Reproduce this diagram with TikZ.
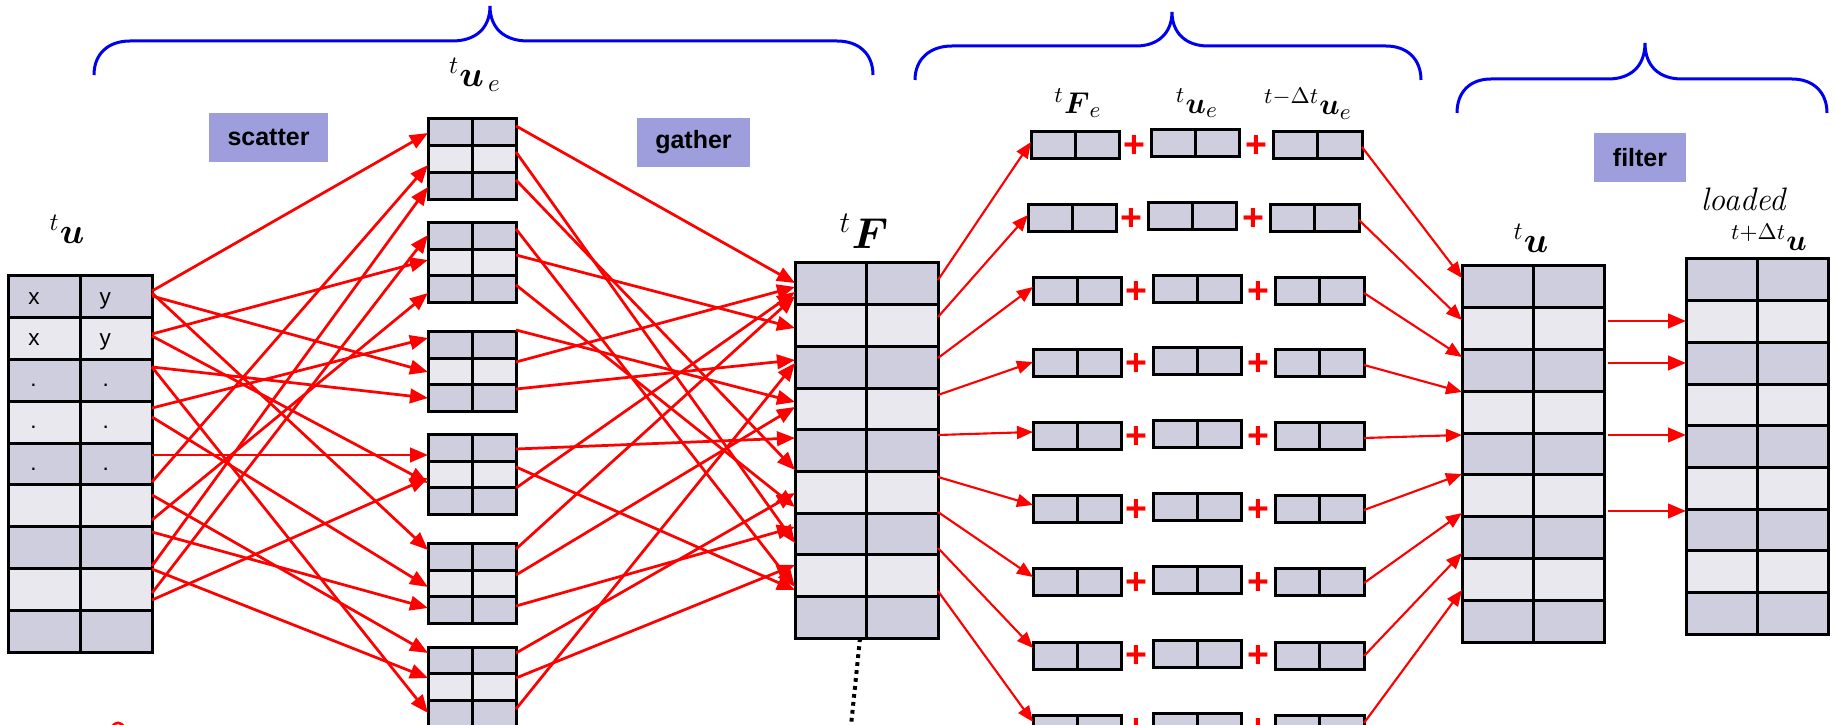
\documentclass[tikz,border=0pt]{standalone}
\usepackage{amsmath}
\usepackage{fontspec}
\setsansfont{Liberation Sans}
\usetikzlibrary{arrows.meta}

\definecolor{celldark}{RGB}{206,206,222}
\definecolor{celllight}{RGB}{232,232,238}
\definecolor{tagfill}{RGB}{158,158,220}
\definecolor{braceblue}{RGB}{0,0,240}
\definecolor{wirered}{RGB}{255,0,0}

\tikzset{
  cell/.style={draw=black, line width=1.2pt, inner sep=0pt, outer sep=0pt},
  scat/.style={draw=wirered, line width=1.1pt, -{Triangle[length=7.2pt,width=5.8pt]}},
  fan/.style={draw=wirered, line width=0.85pt, -{Triangle[length=6.4pt,width=5.2pt]}},
  push/.style={draw=wirered, line width=1.1pt, -{Triangle[length=7.2pt,width=5.8pt]}},
  tag/.style={fill=tagfill, inner sep=0pt, minimum height=19.6pt,
    font=\sffamily\bfseries\fontsize{10}{12}\selectfont},
  celltext/.style={inner sep=0pt, anchor=base west, font=\sffamily\fontsize{9}{10}\selectfont},
  lbl/.style={inner sep=0pt},
  plus/.style={inner sep=0pt, text=wirered, font=\sffamily\bfseries\fontsize{15}{15}\selectfont},
  brace/.style={draw=braceblue, line width=1.2pt},
  dotline/.style={draw=black, line width=1.6pt, dash pattern=on 1.5pt off 1.7pt},
}

% two-column table of cell nodes: name, left x, top y, cell width, cell height, rows
\newcommand{\gridtable}[6]{%
  \foreach \ri in {1,...,#6}{%
    \pgfmathsetmacro{\cy}{#3+(\ri-0.5)*(#5)}%
    \pgfmathsetmacro{\cxa}{#2+0.5*(#4)}%
    \pgfmathsetmacro{\cxb}{#2+1.5*(#4)}%
    \ifodd\ri\relax\def\cellcol{celldark}\else\def\cellcol{celllight}\fi
    \node[cell, fill=\cellcol, minimum width=#4*0.4pt, minimum height=#5*0.4pt] (#1-\ri-a) at (\cxa,\cy) {};%
    \node[cell, fill=\cellcol, minimum width=#4*0.4pt, minimum height=#5*0.4pt] (#1-\ri-b) at (\cxb,\cy) {};%
  }}

% connector from the right side of one cell to the left side of another, at given heights
\newcommand{\wire}[5][scat]{\draw[#1] (#2.east |- 0,#3) -- (#4.west |- 0,#5);}

\begin{document}
\begin{tikzpicture}[x=0.4pt, y=-0.4pt]
\useasboundingbox (0,0) rectangle (1835,725);
\clip (0,0) rectangle (1835,725);

% ---- braces over the three stages
\draw[brace] (94,75) .. controls (94,54) and (108,41) .. (130,41) -- (452,41)
  .. controls (476,41) and (490,28) .. (490,6)
  .. controls (490,28) and (504,41) .. (528,41) -- (837,41)
  .. controls (859,41) and (873,54) .. (873,75);
\draw[brace] (915,80) .. controls (915,59) and (930,46) .. (952,46) -- (1136,46)
  .. controls (1158,46) and (1172,33) .. (1172,12)
  .. controls (1172,33) and (1186,46) .. (1208,46) -- (1386,46)
  .. controls (1407,46) and (1421,59) .. (1421,80);
\draw[brace] (1457,113) .. controls (1457,92) and (1470,79) .. (1491,79) -- (1608,79)
  .. controls (1631,79) and (1645,66) .. (1645,43)
  .. controls (1645,66) and (1659,79) .. (1682,79) -- (1792,79)
  .. controls (1813,79) and (1827,92) .. (1827,113);

% ---- stage tags
\node[tag, minimum width=47.6pt] (scatter) at (268.5,137.5) {scatter};
\node[tag, minimum width=45.2pt] (gather) at (693.5,142.5) {gather};
\node[tag, minimum width=36.8pt] (filter) at (1640,157.5) {filter};

% ---- tables
\gridtable{L}{8.6}{276}{71.7}{41.8}{9}
\gridtable{E1}{428}{119}{44}{26.7}{3}
\gridtable{E2}{428}{223}{44}{26.5}{3}
\gridtable{E3}{428}{332}{44}{26.5}{3}
\gridtable{E4}{428}{435}{44}{26.5}{3}
\gridtable{E5}{428}{544}{44}{26.5}{3}
\gridtable{E6}{428}{647}{44}{26.5}{3}
\gridtable{F}{795}{263}{71.5}{41.7}{9}
\gridtable{R}{1462}{266}{71}{41.8}{9}
\gridtable{T}{1686}{259}{71}{41.7}{9}

% element rows: force, displacement, previous displacement
\foreach \k/\ty/\dx in {1/132/-2, 2/205/-5, 3/278/0, 4/350/0, 5/423/0, 6/496/0, 7/569/0, 8/642/0, 9/715/0}{
  \gridtable{A\k}{1033+\dx}{\ty}{44}{27}{1}
  \gridtable{B\k}{1153+\dx}{\ty-2}{44}{27}{1}
  \gridtable{C\k}{1275+\dx}{\ty}{44.5}{27}{1}
  \node[plus] (P\k-1) at (1136+\dx,\ty+15) {+};
  \node[plus] (P\k-2) at (1258+\dx,\ty+15) {+};
}

% ---- cell entries
\node[celltext] (tx1) at (28,305) {x};
\node[celltext] (ty1) at (99,305) {y};
\node[celltext] (tx2) at (28,346) {x};
\node[celltext] (ty2) at (99,346) {y};
\node[celltext] (tx3) at (30,387) {.};
\node[celltext] (ty3) at (102,387) {.};
\node[celltext] (tx4) at (30,429) {.};
\node[celltext] (ty4) at (102,429) {.};
\node[celltext] (tx5) at (30,471) {.};
\node[celltext] (ty5) at (102,471) {.};

% ---- labels
\node[lbl, font=\fontsize{14}{16}\selectfont] (lblL) at (67,229) {${}^{t}\boldsymbol{u}$};
\node[lbl, font=\fontsize{14}{16}\selectfont] (lblE) at (475,75) {${}^{t}\boldsymbol{u}_{\,e}$};
\node[lbl, font=\fontsize{17}{19}\selectfont] (lblF) at (864,231) {${}^{t}\boldsymbol{F}$};
\node[lbl, font=\fontsize{13}{15}\selectfont] (lblA) at (1078,103) {${}^{t}\boldsymbol{F}_{e}$};
\node[lbl, font=\fontsize{13}{15}\selectfont] (lblB) at (1197,103) {${}^{t}\boldsymbol{u}_{e}$};
\node[lbl, font=\fontsize{13}{15}\selectfont] (lblC) at (1308,104) {${}^{t-\Delta t}\boldsymbol{u}_{e}$};
\node[lbl, font=\fontsize{14}{16}\selectfont] (lblR) at (1531,238) {${}^{t}\boldsymbol{u}$};
\node[lbl, font=\fontsize{13}{15}\selectfont] (lblload) at (1743,199) {\itshape loaded};
\node[lbl, font=\fontsize{13}{15}\selectfont] (lblT) at (1769,237) {${}^{t+\Delta t}\boldsymbol{u}$};

% ---- scatter: global rows to element rows
\wire{L-1-b}{291}{E1-1-a}{133}
\wire{L-1-b}{293}{E5-1-a}{550}
\wire{L-1-b}{296}{E3-2-a}{372}
\wire{L-2-b}{334}{E2-2-a}{260}
\wire{L-2-b}{336}{E4-3-a}{483}
\wire{L-3-b}{367}{E3-3-a}{398}
\wire{L-3-b}{367}{E6-3-a}{713}
\wire{L-4-b}{408}{E3-1-a}{338}
\wire{L-4-b}{417}{E5-2-a}{587}
\wire{L-5-b}{455}{E4-1-a}{455}
\wire{L-5-b}{482}{E1-2-a}{165}
\wire{L-6-b}{495}{E6-1-a}{653}
\wire{L-6-b}{520}{E2-3-a}{293}
\wire{L-7-b}{532}{E5-3-a}{608}
\wire{L-7-b}{566}{E1-3-a}{187}
\wire{L-8-b}{569}{E6-2-a}{678}
\wire{L-8-b}{600}{E4-2-a}{478}
\wire{L-8-b}{593}{E2-1-a}{235}

% ---- gather: element rows to global force rows
\wire{E1-1-b}{126}{F-1-a}{283}
\wire{E1-2-b}{152}{F-7-a}{543}
\wire{E1-3-b}{180}{F-5-a}{470}
\wire{E2-1-b}{229}{F-8-a}{587}
\wire{E2-2-b}{255}{F-2-a}{328}
\wire{E2-3-b}{285}{F-6-a}{507}
\wire{E3-1-b}{330}{F-4-a}{402}
\wire{E3-2-b}{362}{F-1-a}{287}
\wire{E3-3-b}{389}{F-3-a}{360}
\wire{E4-1-b}{449}{F-5-a}{438}
\wire{E4-2-b}{467}{F-8-a}{590}
\wire{E4-3-b}{488}{F-1-a}{292}
\wire{E5-1-b}{549}{F-1-a}{296}
\wire{E5-2-b}{575}{F-4-a}{407}
\wire{E5-3-b}{606}{F-7-a}{527}
\wire{E6-1-b}{653}{F-6-a}{493}
\wire{E6-2-b}{678}{F-8-a}{565}
\wire{E6-3-b}{709}{F-3-a}{363}

% ---- force rows to element updates
\wire[fan]{F-1-b}{280}{A1-1-a}{142}
\wire[fan]{F-2-b}{317}{A2-1-a}{215}
\wire[fan]{F-3-b}{358}{A3-1-a}{287}
\wire[fan]{F-4-b}{395}{A4-1-a}{362}
\wire[fan]{F-5-b}{435}{A5-1-a}{432}
\wire[fan]{F-6-b}{477}{A6-1-a}{505}
\wire[fan]{F-6-b}{512}{A7-1-a}{577}
\wire[fan]{F-7-b}{548}{A8-1-a}{648}
\wire[fan]{F-8-b}{591}{A9-1-a}{722}

% ---- element updates back to the global displacement
\wire[fan]{C1-1-b}{147}{R-1-a}{278}
\wire[fan]{C2-1-b}{220}{R-2-a}{320}
\wire[fan]{C3-1-b}{293}{R-3-a}{357}
\wire[fan]{C4-1-b}{365}{R-4-a}{392}
\wire[fan]{C5-1-b}{438}{R-5-a}{435}
\wire[fan]{C6-1-b}{510}{R-5-a}{474}
\wire[fan]{C7-1-b}{583}{R-6-a}{513}
\wire[fan]{C8-1-b}{656}{R-7-a}{553}
\wire[fan]{C9-1-b}{723}{R-8-a}{590}

% ---- filtered rows to the next step
\draw[push] ([xshift=1.6pt]R-2-b.east |- 0,321) -- (T-2-a.west |- 0,321);
\draw[push] ([xshift=1.6pt]R-3-b.east |- 0,363) -- (T-3-a.west |- 0,363);
\draw[push] ([xshift=1.6pt]R-5-b.east |- 0,435) -- (T-5-a.west |- 0,435);
\draw[push] ([xshift=1.6pt]R-6-b.east |- 0,511) -- (T-7-a.west |- 0,511);

% ---- dotted lead from the force vector
\coordinate (dotend) at (849,745);
\draw[dotline] ([xshift=-2.6pt]F-9-a.south east) -- (dotend);

% small red mark at the lower edge
\draw[wirered, line width=1pt] (112,728) .. controls (114,721) and (122,721) .. (124,728);
\end{tikzpicture}
\end{document}
